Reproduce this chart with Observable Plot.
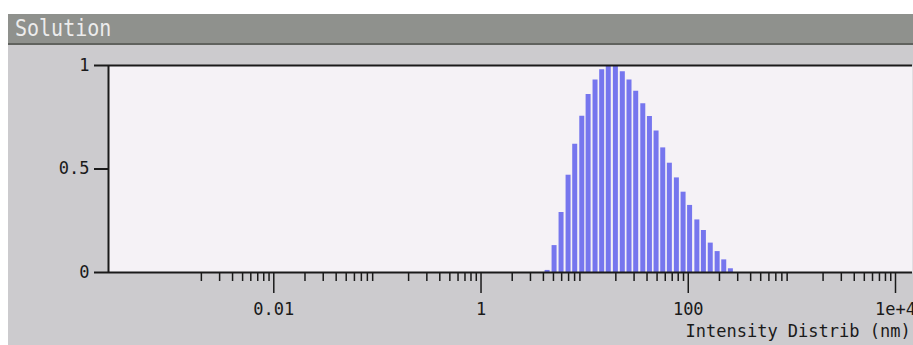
<!DOCTYPE html>
<html><head><meta charset="utf-8">
<script src="https://cdn.jsdelivr.net/npm/d3@7"></script>
<script src="https://cdn.jsdelivr.net/npm/@observablehq/plot@0.6"></script>
<style>
html,body{margin:0;padding:0;background:#fff;width:913px;height:345px;overflow:hidden}
#wrap{position:absolute;left:8px;top:14px;width:905px;}
#title{height:29px;background:#8f918d;border-bottom:2px solid #60625e;color:#ececec;font:20px "DejaVu Sans Mono",monospace;line-height:29px;padding-left:7px;}
#title span{display:inline-block;transform:scaleY(1.15);}
#chart svg{display:block}
</style></head><body>
<div id="wrap"><div id="title"><span>Solution</span></div><div id="chart"></div></div>
<script>
// bin sizes (nm)
const sizes = [4.34, 5.07, 5.92, 6.92, 8.02, 9.38, 10.8, 12.6, 14.6, 16.9, 19.8, 23.1, 26.8, 31.1, 36.4, 42.2, 48.9, 56.7, 65.7, 76.8, 89.1, 103, 121, 140, 163, 190, 220, 255];
// normalized intensity
const intensities = [0.01, 0.13, 0.29, 0.47, 0.62, 0.755, 0.86, 0.93, 0.98, 1.0, 0.995, 0.97, 0.93, 0.876, 0.815, 0.754, 0.683, 0.602, 0.528, 0.457, 0.388, 0.324, 0.254, 0.203, 0.142, 0.101, 0.061, 0.018];
const majorTicks = [0.01, 1, 100, 10000];
const majorLabels = ["0.01", "1", "100", "1e+4"];
const decades = [0.001, 0.01, 0.1, 1, 10, 100, 1000];
const multipliers = [2, 3, 4, 5, 6, 7, 8, 9];
const yTicks = [0, 0.5, 1];
const yLabels = ["0", "0.5", "1"];
const xDomain = [0.000254, 14590];
const axisLabel = "Intensity Distrib (nm)";

const data = sizes.map((s, i) => ({size: s, value: intensities[i]}));
const minorTicks = decades.flatMap(d => multipliers.map(m => d * m));

const plot = Plot.plot({
  width: 905, height: 300,
  marginLeft: 100, marginRight: 1, marginTop: 20, marginBottom: 73,
  style: {background: "#cccbce", fontFamily: '"DejaVu Sans Mono", monospace', fontSize: "17px", color: "#1a1a1a", overflow: "visible"},
  x: {type: "log", domain: xDomain},
  y: {domain: [0, 1]},
  marks: [
    Plot.frame({fill: "#f5f2f6", stroke: null}),
    Plot.ruleX(data, {x: "size", y1: 0, y2: "value", stroke: "#7676ee", strokeWidth: 5}),
    Plot.axisX({ticks: minorTicks, tickSize: 9, tickFormat: () => "", strokeWidth: 1.5, label: null}),
    Plot.axisX({ticks: majorTicks, tickSize: 21, tickPadding: 9, tickFormat: d => majorLabels[majorTicks.indexOf(d)], strokeWidth: 1.5, label: null}),
    Plot.axisY({ticks: yTicks, tickSize: 14, tickPadding: 5, tickFormat: d => yLabels[yTicks.indexOf(d)], strokeWidth: 2, label: null}),
    Plot.ruleY([0], {stroke: "#1a1a1a", strokeWidth: 2}),
    Plot.ruleY([1], {stroke: "#1a1a1a", strokeWidth: 2}),
    Plot.ruleX([xDomain[0]], {stroke: "#1a1a1a", strokeWidth: 2}),
    Plot.text([axisLabel], {frameAnchor: "bottom-left", dx: 577, dy: 64, textAnchor: "start", fontSize: 17, fill: "#1a1a1a"})
  ]
});
document.getElementById("chart").appendChild(plot);
</script>
</body></html>
